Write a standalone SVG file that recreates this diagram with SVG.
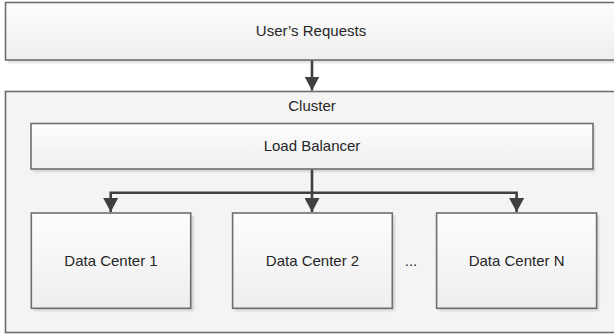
<svg xmlns="http://www.w3.org/2000/svg" width="614" height="334" viewBox="0 0 614 334">
<style>
.box{stroke:#6e6e6e;stroke-width:1.6;fill:url(#g)}
.sh{fill:#000;opacity:0.13;filter:url(#b)}
.t{font-family:"Liberation Sans",Arial,sans-serif;font-size:15px;fill:#262626;text-anchor:middle}
.c{stroke:#404040;stroke-width:2.6;fill:none}
</style>
<defs>
<linearGradient id="g" x1="0" y1="0" x2="0" y2="1">
<stop offset="0" stop-color="#fdfdfd"/>
<stop offset="1" stop-color="#eeeeee"/>
</linearGradient>
<filter id="b" x="-10%" y="-10%" width="120%" height="130%"><feGaussianBlur stdDeviation="1.2"/></filter>
<marker id="a" viewBox="0 0 14 15" refX="14" refY="7.5" markerWidth="14" markerHeight="15" markerUnits="userSpaceOnUse" orient="auto">
<path d="M0,0 L14,7.5 L0,15 Z" fill="#404040"/>
</marker>
</defs>
<g id="requests">
<rect class="sh" x="8" y="5" width="620" height="58"/>
<rect class="box" x="5.5" y="2.5" width="620" height="57.5"/>
<text class="t" x="311" y="36">User’s Requests</text>
</g>
<g id="cluster">
<rect class="box" x="5.5" y="91.5" width="620" height="241" style="fill:#f4f4f4"/>
<text class="t" x="312" y="111">Cluster</text>
</g>
<g id="loadbalancer">
<rect class="sh" x="33" y="126" width="562" height="46"/>
<rect class="box" x="31" y="123.5" width="562" height="45.5"/>
<text class="t" x="312" y="151">Load Balancer</text>
</g>
<g id="dc1">
<rect class="sh" x="34" y="216" width="160" height="95"/>
<rect class="box" x="31.3" y="213" width="159.4" height="95.3"/>
<text class="t" x="111" y="266">Data Center 1</text>
</g>
<g id="dc2">
<rect class="sh" x="235" y="216" width="160" height="95"/>
<rect class="box" x="232.6" y="213" width="159.7" height="95.3"/>
<text class="t" x="312.5" y="266">Data Center 2</text>
</g>
<text class="t" x="411" y="266">...</text>
<g id="dcN">
<rect class="sh" x="439" y="216" width="160" height="95"/>
<rect class="box" x="436.6" y="213" width="160" height="95.3"/>
<text class="t" x="516.6" y="266">Data Center N</text>
</g>
<g id="connectors">
<path class="c" d="M312,60.8 V90.5" marker-end="url(#a)"/>
<path class="c" d="M312,169.8 V212" marker-end="url(#a)"/>
<path class="c" d="M312,192.7 H110.7 V212" marker-end="url(#a)"/>
<path class="c" d="M312,192.7 H516.6 V212" marker-end="url(#a)"/>
</g>
</svg>
